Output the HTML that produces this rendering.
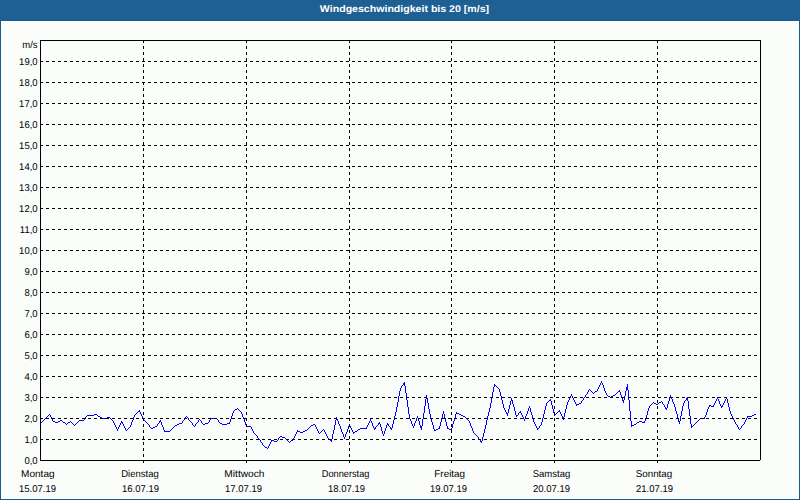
<!DOCTYPE html>
<html><head><meta charset="utf-8"><style>
html,body{margin:0;padding:0;width:800px;height:500px;overflow:hidden;background:#fbfdfb;}
svg{display:block;}
text{font-family:"Liberation Sans",sans-serif;text-rendering:geometricPrecision;}
</style></head><body>
<svg width="800" height="500" viewBox="0 0 800 500">
<rect x="0" y="0" width="800" height="500" fill="#175a94"/>
<rect x="1" y="21" width="798" height="478" fill="#ffffff"/>
<rect x="2" y="22" width="796" height="476" fill="#fbfdfb"/>
<rect x="0" y="0" width="800" height="20" fill="#1e6093"/>
<text x="404.5" y="12" fill="#ffffff" font-size="9.8" font-weight="bold" text-anchor="middle" transform="matrix(1.08 0 0 1 -32.360 0)">Windgeschwindigkeit bis 20 [m/s]</text>
<path d="M601 381h1v1h-1zM404 382h1v1h-1zM601 382h1v1h-1zM403 383h2v1h-2zM600 383h1v1h-1zM602 383h1v1h-1zM403 384h2v1h-2zM494 384h1v1h-1zM600 384h1v1h-1zM602 384h1v1h-1zM627 384h1v1h-1zM402 385h1v1h-1zM404 385h1v1h-1zM494 385h2v1h-2zM599 385h1v1h-1zM603 385h1v1h-1zM627 385h1v1h-1zM401 386h1v1h-1zM405 386h1v1h-1zM494 386h1v1h-1zM496 386h1v1h-1zM599 386h1v1h-1zM603 386h1v1h-1zM627 386h1v1h-1zM401 387h1v1h-1zM405 387h1v1h-1zM493 387h1v1h-1zM497 387h1v1h-1zM598 387h1v1h-1zM603 387h1v1h-1zM626 387h2v1h-2zM400 388h1v1h-1zM405 388h1v1h-1zM493 388h1v1h-1zM498 388h1v1h-1zM598 388h1v1h-1zM604 388h1v1h-1zM626 388h2v1h-2zM400 389h1v1h-1zM405 389h1v1h-1zM493 389h1v1h-1zM499 389h1v1h-1zM589 389h1v1h-1zM597 389h1v1h-1zM604 389h1v1h-1zM626 389h2v1h-2zM400 390h1v1h-1zM405 390h1v1h-1zM493 390h1v1h-1zM499 390h1v1h-1zM588 390h1v1h-1zM590 390h1v1h-1zM597 390h1v1h-1zM604 390h1v1h-1zM619 390h1v1h-1zM626 390h1v1h-1zM628 390h1v1h-1zM399 391h1v1h-1zM405 391h1v1h-1zM493 391h1v1h-1zM499 391h1v1h-1zM588 391h1v1h-1zM591 391h1v1h-1zM595 391h2v1h-2zM605 391h1v1h-1zM618 391h2v1h-2zM625 391h1v1h-1zM628 391h1v1h-1zM399 392h1v1h-1zM405 392h1v1h-1zM492 392h1v1h-1zM500 392h1v1h-1zM587 392h1v1h-1zM592 392h1v1h-1zM594 392h1v1h-1zM605 392h1v1h-1zM617 392h1v1h-1zM620 392h1v1h-1zM625 392h1v1h-1zM628 392h1v1h-1zM399 393h1v1h-1zM406 393h1v1h-1zM492 393h1v1h-1zM500 393h1v1h-1zM587 393h1v1h-1zM593 393h1v1h-1zM606 393h1v1h-1zM616 393h1v1h-1zM620 393h1v1h-1zM625 393h1v1h-1zM628 393h1v1h-1zM399 394h1v1h-1zM406 394h1v1h-1zM492 394h1v1h-1zM500 394h1v1h-1zM571 394h1v1h-1zM586 394h1v1h-1zM606 394h1v1h-1zM615 394h1v1h-1zM620 394h1v1h-1zM625 394h1v1h-1zM628 394h1v1h-1zM399 395h1v1h-1zM406 395h1v1h-1zM426 395h1v1h-1zM492 395h1v1h-1zM500 395h1v1h-1zM571 395h1v1h-1zM585 395h1v1h-1zM607 395h1v1h-1zM613 395h2v1h-2zM621 395h1v1h-1zM625 395h1v1h-1zM628 395h1v1h-1zM670 395h1v1h-1zM398 396h1v1h-1zM406 396h1v1h-1zM426 396h1v1h-1zM492 396h1v1h-1zM501 396h1v1h-1zM570 396h1v1h-1zM572 396h1v1h-1zM585 396h1v1h-1zM608 396h2v1h-2zM611 396h2v1h-2zM621 396h1v1h-1zM624 396h1v1h-1zM628 396h1v1h-1zM670 396h1v1h-1zM398 397h1v1h-1zM406 397h1v1h-1zM426 397h1v1h-1zM492 397h1v1h-1zM501 397h1v1h-1zM570 397h1v1h-1zM572 397h1v1h-1zM584 397h1v1h-1zM610 397h1v1h-1zM621 397h1v1h-1zM624 397h1v1h-1zM628 397h1v1h-1zM669 397h1v1h-1zM671 397h1v1h-1zM687 397h1v1h-1zM717 397h1v1h-1zM726 397h1v1h-1zM398 398h1v1h-1zM406 398h1v1h-1zM426 398h2v1h-2zM491 398h1v1h-1zM501 398h1v1h-1zM511 398h1v1h-1zM569 398h1v1h-1zM573 398h1v1h-1zM583 398h1v1h-1zM622 398h1v1h-1zM624 398h1v1h-1zM628 398h1v1h-1zM669 398h1v1h-1zM671 398h1v1h-1zM686 398h2v1h-2zM717 398h1v1h-1zM726 398h1v1h-1zM398 399h1v1h-1zM406 399h1v1h-1zM425 399h1v1h-1zM427 399h1v1h-1zM491 399h1v1h-1zM501 399h1v1h-1zM511 399h1v1h-1zM550 399h1v1h-1zM569 399h1v1h-1zM573 399h1v1h-1zM583 399h1v1h-1zM622 399h1v1h-1zM624 399h1v1h-1zM628 399h1v1h-1zM669 399h1v1h-1zM672 399h1v1h-1zM686 399h2v1h-2zM716 399h1v1h-1zM718 399h1v1h-1zM725 399h1v1h-1zM727 399h1v1h-1zM398 400h1v1h-1zM407 400h1v1h-1zM425 400h1v1h-1zM427 400h1v1h-1zM491 400h1v1h-1zM502 400h1v1h-1zM511 400h2v1h-2zM549 400h2v1h-2zM568 400h1v1h-1zM574 400h1v1h-1zM582 400h1v1h-1zM622 400h2v1h-2zM629 400h1v1h-1zM669 400h1v1h-1zM672 400h1v1h-1zM685 400h1v1h-1zM687 400h1v1h-1zM716 400h1v1h-1zM718 400h1v1h-1zM725 400h1v1h-1zM727 400h1v1h-1zM398 401h1v1h-1zM407 401h1v1h-1zM425 401h1v1h-1zM427 401h1v1h-1zM491 401h1v1h-1zM502 401h1v1h-1zM510 401h1v1h-1zM512 401h1v1h-1zM548 401h1v1h-1zM551 401h1v1h-1zM568 401h1v1h-1zM574 401h1v1h-1zM581 401h1v1h-1zM623 401h1v1h-1zM629 401h1v1h-1zM661 401h1v1h-1zM668 401h1v1h-1zM672 401h1v1h-1zM684 401h1v1h-1zM688 401h1v1h-1zM715 401h1v1h-1zM719 401h1v1h-1zM724 401h1v1h-1zM727 401h1v1h-1zM397 402h1v1h-1zM407 402h1v1h-1zM425 402h1v1h-1zM427 402h1v1h-1zM491 402h1v1h-1zM502 402h1v1h-1zM510 402h1v1h-1zM512 402h1v1h-1zM547 402h1v1h-1zM551 402h1v1h-1zM567 402h1v1h-1zM575 402h1v1h-1zM581 402h1v1h-1zM623 402h1v1h-1zM629 402h1v1h-1zM653 402h1v1h-1zM659 402h2v1h-2zM662 402h1v1h-1zM668 402h1v1h-1zM673 402h1v1h-1zM684 402h1v1h-1zM688 402h1v1h-1zM715 402h1v1h-1zM719 402h1v1h-1zM724 402h1v1h-1zM727 402h1v1h-1zM397 403h1v1h-1zM407 403h1v1h-1zM425 403h1v1h-1zM428 403h1v1h-1zM490 403h1v1h-1zM502 403h1v1h-1zM510 403h1v1h-1zM512 403h1v1h-1zM546 403h1v1h-1zM551 403h1v1h-1zM567 403h1v1h-1zM575 403h1v1h-1zM579 403h2v1h-2zM629 403h1v1h-1zM652 403h1v1h-1zM654 403h2v1h-2zM658 403h1v1h-1zM662 403h1v1h-1zM668 403h1v1h-1zM673 403h1v1h-1zM683 403h1v1h-1zM688 403h1v1h-1zM714 403h1v1h-1zM719 403h1v1h-1zM723 403h1v1h-1zM728 403h1v1h-1zM397 404h1v1h-1zM407 404h1v1h-1zM425 404h1v1h-1zM428 404h1v1h-1zM490 404h1v1h-1zM503 404h1v1h-1zM510 404h1v1h-1zM513 404h1v1h-1zM546 404h1v1h-1zM551 404h1v1h-1zM567 404h1v1h-1zM576 404h3v1h-3zM629 404h1v1h-1zM651 404h1v1h-1zM656 404h2v1h-2zM663 404h1v1h-1zM667 404h1v1h-1zM674 404h1v1h-1zM683 404h1v1h-1zM688 404h1v1h-1zM714 404h1v1h-1zM720 404h1v1h-1zM723 404h1v1h-1zM728 404h1v1h-1zM397 405h1v1h-1zM407 405h1v1h-1zM425 405h1v1h-1zM428 405h1v1h-1zM490 405h1v1h-1zM503 405h1v1h-1zM509 405h1v1h-1zM513 405h1v1h-1zM546 405h1v1h-1zM552 405h1v1h-1zM566 405h1v1h-1zM576 405h1v1h-1zM629 405h1v1h-1zM650 405h1v1h-1zM664 405h1v1h-1zM667 405h1v1h-1zM674 405h1v1h-1zM683 405h1v1h-1zM688 405h1v1h-1zM709 405h2v1h-2zM713 405h1v1h-1zM720 405h1v1h-1zM722 405h1v1h-1zM728 405h1v1h-1zM397 406h1v1h-1zM407 406h1v1h-1zM424 406h1v1h-1zM428 406h1v1h-1zM490 406h1v1h-1zM503 406h1v1h-1zM509 406h1v1h-1zM513 406h1v1h-1zM529 406h1v1h-1zM545 406h1v1h-1zM552 406h1v1h-1zM566 406h1v1h-1zM629 406h1v1h-1zM649 406h1v1h-1zM664 406h1v1h-1zM667 406h1v1h-1zM674 406h1v1h-1zM682 406h1v1h-1zM688 406h1v1h-1zM709 406h1v1h-1zM711 406h3v1h-3zM721 406h2v1h-2zM728 406h1v1h-1zM396 407h1v1h-1zM408 407h1v1h-1zM424 407h1v1h-1zM428 407h1v1h-1zM490 407h1v1h-1zM503 407h1v1h-1zM509 407h1v1h-1zM514 407h1v1h-1zM529 407h1v1h-1zM545 407h1v1h-1zM552 407h1v1h-1zM566 407h1v1h-1zM629 407h1v1h-1zM649 407h1v1h-1zM665 407h1v1h-1zM667 407h1v1h-1zM675 407h1v1h-1zM682 407h1v1h-1zM688 407h1v1h-1zM708 407h1v1h-1zM721 407h1v1h-1zM729 407h1v1h-1zM237 408h1v1h-1zM396 408h1v1h-1zM408 408h1v1h-1zM424 408h1v1h-1zM428 408h1v1h-1zM489 408h1v1h-1zM504 408h1v1h-1zM509 408h1v1h-1zM514 408h1v1h-1zM528 408h1v1h-1zM530 408h1v1h-1zM545 408h1v1h-1zM552 408h1v1h-1zM566 408h1v1h-1zM629 408h1v1h-1zM648 408h1v1h-1zM665 408h2v1h-2zM675 408h1v1h-1zM682 408h1v1h-1zM688 408h1v1h-1zM708 408h1v1h-1zM729 408h1v1h-1zM235 409h2v1h-2zM238 409h1v1h-1zM396 409h1v1h-1zM408 409h1v1h-1zM424 409h1v1h-1zM429 409h1v1h-1zM489 409h1v1h-1zM504 409h1v1h-1zM508 409h1v1h-1zM514 409h1v1h-1zM528 409h1v1h-1zM530 409h1v1h-1zM545 409h1v1h-1zM553 409h1v1h-1zM565 409h1v1h-1zM629 409h1v1h-1zM648 409h1v1h-1zM666 409h1v1h-1zM675 409h1v1h-1zM682 409h1v1h-1zM689 409h1v1h-1zM707 409h1v1h-1zM729 409h1v1h-1zM139 410h1v1h-1zM234 410h1v1h-1zM239 410h1v1h-1zM396 410h1v1h-1zM408 410h1v1h-1zM424 410h1v1h-1zM429 410h1v1h-1zM489 410h1v1h-1zM505 410h1v1h-1zM508 410h1v1h-1zM514 410h1v1h-1zM528 410h1v1h-1zM530 410h1v1h-1zM544 410h1v1h-1zM553 410h1v1h-1zM559 410h1v1h-1zM565 410h1v1h-1zM629 410h1v1h-1zM648 410h1v1h-1zM675 410h1v1h-1zM682 410h1v1h-1zM689 410h1v1h-1zM707 410h1v1h-1zM729 410h1v1h-1zM138 411h2v1h-2zM233 411h1v1h-1zM240 411h1v1h-1zM396 411h1v1h-1zM408 411h1v1h-1zM424 411h1v1h-1zM429 411h1v1h-1zM443 411h1v1h-1zM489 411h1v1h-1zM505 411h1v1h-1zM508 411h1v1h-1zM515 411h1v1h-1zM520 411h1v1h-1zM527 411h1v1h-1zM530 411h1v1h-1zM544 411h1v1h-1zM553 411h1v1h-1zM558 411h2v1h-2zM565 411h1v1h-1zM630 411h1v1h-1zM647 411h1v1h-1zM676 411h1v1h-1zM681 411h1v1h-1zM689 411h1v1h-1zM707 411h1v1h-1zM730 411h1v1h-1zM137 412h1v1h-1zM140 412h1v1h-1zM233 412h1v1h-1zM241 412h1v1h-1zM395 412h1v1h-1zM408 412h1v1h-1zM424 412h1v1h-1zM429 412h1v1h-1zM443 412h1v1h-1zM456 412h1v1h-1zM488 412h1v1h-1zM506 412h1v1h-1zM508 412h1v1h-1zM515 412h1v1h-1zM519 412h2v1h-2zM527 412h1v1h-1zM531 412h1v1h-1zM544 412h1v1h-1zM553 412h1v1h-1zM557 412h1v1h-1zM560 412h1v1h-1zM565 412h1v1h-1zM630 412h1v1h-1zM647 412h1v1h-1zM676 412h1v1h-1zM681 412h1v1h-1zM689 412h1v1h-1zM706 412h1v1h-1zM730 412h1v1h-1zM136 413h1v1h-1zM140 413h1v1h-1zM232 413h1v1h-1zM241 413h1v1h-1zM395 413h1v1h-1zM408 413h1v1h-1zM423 413h1v1h-1zM429 413h1v1h-1zM443 413h1v1h-1zM456 413h3v1h-3zM488 413h1v1h-1zM506 413h2v1h-2zM515 413h1v1h-1zM518 413h1v1h-1zM521 413h1v1h-1zM527 413h1v1h-1zM531 413h1v1h-1zM544 413h1v1h-1zM554 413h1v1h-1zM556 413h1v1h-1zM560 413h1v1h-1zM564 413h1v1h-1zM630 413h1v1h-1zM647 413h1v1h-1zM676 413h1v1h-1zM681 413h1v1h-1zM689 413h1v1h-1zM706 413h1v1h-1zM730 413h1v1h-1zM49 414h1v1h-1zM94 414h3v1h-3zM135 414h1v1h-1zM141 414h1v1h-1zM232 414h1v1h-1zM242 414h1v1h-1zM395 414h1v1h-1zM409 414h1v1h-1zM423 414h1v1h-1zM430 414h1v1h-1zM442 414h1v1h-1zM444 414h1v1h-1zM455 414h1v1h-1zM459 414h2v1h-2zM488 414h1v1h-1zM507 414h1v1h-1zM515 414h1v1h-1zM518 414h1v1h-1zM521 414h1v1h-1zM526 414h1v1h-1zM531 414h1v1h-1zM543 414h1v1h-1zM554 414h2v1h-2zM561 414h1v1h-1zM564 414h1v1h-1zM630 414h1v1h-1zM647 414h1v1h-1zM677 414h1v1h-1zM681 414h1v1h-1zM689 414h1v1h-1zM706 414h1v1h-1zM731 414h1v1h-1zM754 414h2v1h-2zM48 415h1v1h-1zM50 415h1v1h-1zM87 415h7v1h-7zM97 415h1v1h-1zM134 415h1v1h-1zM141 415h1v1h-1zM232 415h1v1h-1zM242 415h1v1h-1zM395 415h1v1h-1zM409 415h1v1h-1zM423 415h1v1h-1zM430 415h1v1h-1zM442 415h1v1h-1zM444 415h1v1h-1zM455 415h1v1h-1zM461 415h2v1h-2zM488 415h1v1h-1zM507 415h1v1h-1zM516 415h2v1h-2zM522 415h1v1h-1zM526 415h1v1h-1zM532 415h1v1h-1zM543 415h1v1h-1zM554 415h1v1h-1zM561 415h1v1h-1zM564 415h1v1h-1zM630 415h1v1h-1zM646 415h1v1h-1zM677 415h1v1h-1zM681 415h1v1h-1zM689 415h1v1h-1zM705 415h1v1h-1zM731 415h1v1h-1zM752 415h2v1h-2zM47 416h1v1h-1zM50 416h1v1h-1zM86 416h1v1h-1zM98 416h2v1h-2zM134 416h1v1h-1zM142 416h1v1h-1zM186 416h1v1h-1zM231 416h1v1h-1zM242 416h1v1h-1zM394 416h1v1h-1zM409 416h1v1h-1zM417 416h1v1h-1zM423 416h1v1h-1zM430 416h1v1h-1zM442 416h1v1h-1zM444 416h1v1h-1zM455 416h1v1h-1zM463 416h2v1h-2zM487 416h1v1h-1zM516 416h1v1h-1zM522 416h1v1h-1zM525 416h1v1h-1zM532 416h1v1h-1zM543 416h1v1h-1zM562 416h1v1h-1zM564 416h1v1h-1zM630 416h1v1h-1zM646 416h1v1h-1zM677 416h1v1h-1zM680 416h1v1h-1zM690 416h1v1h-1zM705 416h1v1h-1zM732 416h1v1h-1zM747 416h5v1h-5zM46 417h1v1h-1zM51 417h1v1h-1zM85 417h1v1h-1zM100 417h2v1h-2zM107 417h3v1h-3zM133 417h1v1h-1zM142 417h1v1h-1zM185 417h1v1h-1zM187 417h1v1h-1zM231 417h1v1h-1zM243 417h1v1h-1zM336 417h1v1h-1zM394 417h1v1h-1zM409 417h1v1h-1zM417 417h1v1h-1zM423 417h1v1h-1zM430 417h1v1h-1zM442 417h1v1h-1zM444 417h1v1h-1zM455 417h1v1h-1zM465 417h1v1h-1zM487 417h1v1h-1zM523 417h1v1h-1zM525 417h1v1h-1zM532 417h1v1h-1zM543 417h1v1h-1zM562 417h2v1h-2zM630 417h1v1h-1zM646 417h1v1h-1zM677 417h1v1h-1zM680 417h1v1h-1zM690 417h1v1h-1zM704 417h1v1h-1zM732 417h1v1h-1zM747 417h1v1h-1zM45 418h1v1h-1zM51 418h1v1h-1zM85 418h1v1h-1zM102 418h5v1h-5zM110 418h1v1h-1zM133 418h1v1h-1zM143 418h1v1h-1zM185 418h1v1h-1zM188 418h1v1h-1zM211 418h6v1h-6zM231 418h1v1h-1zM243 418h1v1h-1zM336 418h1v1h-1zM394 418h1v1h-1zM409 418h1v1h-1zM416 418h1v1h-1zM418 418h1v1h-1zM423 418h1v1h-1zM431 418h1v1h-1zM441 418h1v1h-1zM445 418h1v1h-1zM454 418h1v1h-1zM466 418h1v1h-1zM487 418h1v1h-1zM523 418h1v1h-1zM525 418h1v1h-1zM532 418h1v1h-1zM542 418h1v1h-1zM563 418h1v1h-1zM630 418h1v1h-1zM645 418h1v1h-1zM678 418h1v1h-1zM680 418h1v1h-1zM690 418h1v1h-1zM700 418h5v1h-5zM733 418h1v1h-1zM746 418h1v1h-1zM44 419h1v1h-1zM52 419h1v1h-1zM84 419h1v1h-1zM111 419h1v1h-1zM133 419h1v1h-1zM143 419h1v1h-1zM184 419h1v1h-1zM188 419h1v1h-1zM199 419h1v1h-1zM210 419h1v1h-1zM217 419h1v1h-1zM230 419h1v1h-1zM244 419h1v1h-1zM336 419h2v1h-2zM370 419h1v1h-1zM394 419h1v1h-1zM410 419h1v1h-1zM416 419h1v1h-1zM418 419h1v1h-1zM422 419h1v1h-1zM431 419h1v1h-1zM441 419h1v1h-1zM445 419h1v1h-1zM454 419h1v1h-1zM467 419h1v1h-1zM487 419h1v1h-1zM524 419h1v1h-1zM533 419h1v1h-1zM542 419h1v1h-1zM563 419h1v1h-1zM630 419h1v1h-1zM645 419h1v1h-1zM678 419h1v1h-1zM680 419h1v1h-1zM690 419h1v1h-1zM699 419h1v1h-1zM733 419h1v1h-1zM746 419h1v1h-1zM43 420h1v1h-1zM52 420h1v1h-1zM60 420h2v1h-2zM79 420h5v1h-5zM112 420h1v1h-1zM132 420h1v1h-1zM144 420h1v1h-1zM160 420h1v1h-1zM183 420h1v1h-1zM189 420h1v1h-1zM198 420h1v1h-1zM200 420h1v1h-1zM209 420h1v1h-1zM218 420h1v1h-1zM230 420h1v1h-1zM244 420h1v1h-1zM335 420h1v1h-1zM337 420h1v1h-1zM370 420h1v1h-1zM393 420h1v1h-1zM410 420h1v1h-1zM416 420h1v1h-1zM418 420h1v1h-1zM422 420h1v1h-1zM431 420h1v1h-1zM441 420h1v1h-1zM445 420h1v1h-1zM454 420h1v1h-1zM468 420h1v1h-1zM486 420h1v1h-1zM524 420h1v1h-1zM533 420h1v1h-1zM542 420h1v1h-1zM630 420h1v1h-1zM645 420h1v1h-1zM678 420h1v1h-1zM680 420h1v1h-1zM690 420h1v1h-1zM698 420h1v1h-1zM734 420h1v1h-1zM745 420h1v1h-1zM42 421h1v1h-1zM53 421h2v1h-2zM58 421h2v1h-2zM62 421h1v1h-1zM70 421h1v1h-1zM78 421h1v1h-1zM113 421h1v1h-1zM121 421h1v1h-1zM132 421h1v1h-1zM145 421h1v1h-1zM159 421h2v1h-2zM182 421h1v1h-1zM190 421h1v1h-1zM198 421h1v1h-1zM201 421h1v1h-1zM209 421h1v1h-1zM218 421h1v1h-1zM230 421h1v1h-1zM244 421h1v1h-1zM335 421h1v1h-1zM338 421h1v1h-1zM369 421h1v1h-1zM371 421h1v1h-1zM393 421h1v1h-1zM411 421h1v1h-1zM415 421h1v1h-1zM419 421h1v1h-1zM422 421h1v1h-1zM431 421h1v1h-1zM441 421h1v1h-1zM445 421h1v1h-1zM453 421h1v1h-1zM469 421h1v1h-1zM486 421h1v1h-1zM533 421h1v1h-1zM542 421h1v1h-1zM631 421h1v1h-1zM639 421h3v1h-3zM644 421h1v1h-1zM678 421h2v1h-2zM690 421h1v1h-1zM697 421h1v1h-1zM734 421h1v1h-1zM745 421h1v1h-1zM41 422h1v1h-1zM55 422h3v1h-3zM63 422h2v1h-2zM68 422h2v1h-2zM71 422h1v1h-1zM77 422h1v1h-1zM113 422h1v1h-1zM121 422h2v1h-2zM131 422h1v1h-1zM146 422h1v1h-1zM159 422h1v1h-1zM161 422h1v1h-1zM182 422h1v1h-1zM191 422h1v1h-1zM197 422h1v1h-1zM201 422h1v1h-1zM208 422h1v1h-1zM219 422h1v1h-1zM229 422h1v1h-1zM245 422h1v1h-1zM335 422h1v1h-1zM338 422h1v1h-1zM369 422h1v1h-1zM371 422h1v1h-1zM379 422h1v1h-1zM393 422h1v1h-1zM411 422h1v1h-1zM415 422h1v1h-1zM419 422h1v1h-1zM422 422h1v1h-1zM432 422h1v1h-1zM440 422h1v1h-1zM446 422h1v1h-1zM453 422h1v1h-1zM469 422h1v1h-1zM486 422h1v1h-1zM534 422h1v1h-1zM541 422h1v1h-1zM631 422h1v1h-1zM637 422h2v1h-2zM642 422h3v1h-3zM679 422h1v1h-1zM690 422h1v1h-1zM696 422h1v1h-1zM735 422h1v1h-1zM744 422h1v1h-1zM40 423h1v1h-1zM65 423h1v1h-1zM67 423h1v1h-1zM72 423h1v1h-1zM76 423h1v1h-1zM114 423h1v1h-1zM120 423h1v1h-1zM122 423h1v1h-1zM131 423h1v1h-1zM147 423h1v1h-1zM158 423h1v1h-1zM161 423h1v1h-1zM179 423h3v1h-3zM192 423h1v1h-1zM196 423h1v1h-1zM202 423h1v1h-1zM205 423h3v1h-3zM220 423h2v1h-2zM227 423h3v1h-3zM245 423h1v1h-1zM335 423h1v1h-1zM338 423h1v1h-1zM368 423h1v1h-1zM372 423h1v1h-1zM378 423h2v1h-2zM387 423h1v1h-1zM393 423h1v1h-1zM411 423h1v1h-1zM414 423h1v1h-1zM419 423h1v1h-1zM422 423h1v1h-1zM432 423h1v1h-1zM440 423h1v1h-1zM446 423h1v1h-1zM453 423h1v1h-1zM470 423h1v1h-1zM486 423h1v1h-1zM534 423h1v1h-1zM541 423h1v1h-1zM631 423h1v1h-1zM636 423h1v1h-1zM679 423h1v1h-1zM690 423h1v1h-1zM695 423h1v1h-1zM735 423h1v1h-1zM744 423h1v1h-1zM66 424h1v1h-1zM73 424h1v1h-1zM75 424h1v1h-1zM114 424h1v1h-1zM120 424h1v1h-1zM123 424h1v1h-1zM131 424h1v1h-1zM148 424h1v1h-1zM157 424h1v1h-1zM161 424h1v1h-1zM177 424h2v1h-2zM192 424h1v1h-1zM195 424h1v1h-1zM203 424h2v1h-2zM222 424h5v1h-5zM245 424h1v1h-1zM313 424h2v1h-2zM335 424h1v1h-1zM339 424h1v1h-1zM349 424h1v1h-1zM368 424h1v1h-1zM372 424h1v1h-1zM378 424h1v1h-1zM380 424h1v1h-1zM387 424h2v1h-2zM392 424h1v1h-1zM412 424h1v1h-1zM414 424h1v1h-1zM419 424h1v1h-1zM422 424h1v1h-1zM432 424h1v1h-1zM440 424h1v1h-1zM446 424h1v1h-1zM452 424h1v1h-1zM470 424h1v1h-1zM486 424h1v1h-1zM535 424h1v1h-1zM541 424h1v1h-1zM631 424h1v1h-1zM634 424h2v1h-2zM691 424h1v1h-1zM694 424h1v1h-1zM736 424h1v1h-1zM743 424h1v1h-1zM74 425h1v1h-1zM115 425h1v1h-1zM119 425h1v1h-1zM123 425h1v1h-1zM130 425h1v1h-1zM149 425h1v1h-1zM157 425h1v1h-1zM162 425h1v1h-1zM175 425h2v1h-2zM193 425h1v1h-1zM195 425h1v1h-1zM246 425h1v1h-1zM311 425h2v1h-2zM315 425h1v1h-1zM334 425h1v1h-1zM339 425h1v1h-1zM349 425h1v1h-1zM367 425h1v1h-1zM372 425h1v1h-1zM377 425h1v1h-1zM380 425h1v1h-1zM386 425h1v1h-1zM388 425h1v1h-1zM392 425h1v1h-1zM412 425h1v1h-1zM414 425h1v1h-1zM420 425h1v1h-1zM422 425h1v1h-1zM433 425h1v1h-1zM440 425h1v1h-1zM446 425h1v1h-1zM452 425h1v1h-1zM470 425h1v1h-1zM485 425h1v1h-1zM535 425h1v1h-1zM540 425h1v1h-1zM631 425h3v1h-3zM691 425h1v1h-1zM693 425h1v1h-1zM737 425h1v1h-1zM742 425h1v1h-1zM115 426h1v1h-1zM119 426h1v1h-1zM124 426h1v1h-1zM130 426h1v1h-1zM149 426h1v1h-1zM155 426h2v1h-2zM162 426h1v1h-1zM174 426h1v1h-1zM194 426h1v1h-1zM246 426h5v1h-5zM310 426h1v1h-1zM315 426h1v1h-1zM334 426h1v1h-1zM340 426h1v1h-1zM348 426h1v1h-1zM350 426h1v1h-1zM367 426h1v1h-1zM373 426h1v1h-1zM376 426h1v1h-1zM380 426h1v1h-1zM386 426h1v1h-1zM389 426h1v1h-1zM392 426h1v1h-1zM413 426h1v1h-1zM420 426h2v1h-2zM433 426h1v1h-1zM439 426h1v1h-1zM447 426h1v1h-1zM452 426h1v1h-1zM471 426h1v1h-1zM485 426h1v1h-1zM536 426h1v1h-1zM539 426h1v1h-1zM631 426h1v1h-1zM691 426h2v1h-2zM737 426h1v1h-1zM741 426h1v1h-1zM116 427h1v1h-1zM118 427h1v1h-1zM124 427h1v1h-1zM129 427h1v1h-1zM150 427h1v1h-1zM153 427h2v1h-2zM163 427h1v1h-1zM173 427h1v1h-1zM251 427h1v1h-1zM309 427h1v1h-1zM316 427h1v1h-1zM334 427h1v1h-1zM340 427h1v1h-1zM348 427h1v1h-1zM350 427h1v1h-1zM366 427h1v1h-1zM373 427h1v1h-1zM375 427h1v1h-1zM381 427h1v1h-1zM386 427h1v1h-1zM390 427h1v1h-1zM392 427h1v1h-1zM413 427h1v1h-1zM420 427h2v1h-2zM433 427h1v1h-1zM439 427h1v1h-1zM447 427h1v1h-1zM452 427h1v1h-1zM471 427h1v1h-1zM485 427h1v1h-1zM536 427h1v1h-1zM539 427h1v1h-1zM691 427h1v1h-1zM738 427h1v1h-1zM741 427h1v1h-1zM116 428h1v1h-1zM118 428h1v1h-1zM125 428h1v1h-1zM128 428h1v1h-1zM151 428h2v1h-2zM163 428h1v1h-1zM172 428h1v1h-1zM251 428h1v1h-1zM308 428h1v1h-1zM316 428h1v1h-1zM334 428h1v1h-1zM340 428h1v1h-1zM348 428h1v1h-1zM351 428h1v1h-1zM360 428h7v1h-7zM374 428h2v1h-2zM381 428h1v1h-1zM385 428h1v1h-1zM390 428h2v1h-2zM421 428h1v1h-1zM433 428h1v1h-1zM438 428h2v1h-2zM447 428h2v1h-2zM451 428h1v1h-1zM472 428h1v1h-1zM485 428h1v1h-1zM537 428h2v1h-2zM738 428h1v1h-1zM740 428h1v1h-1zM117 429h1v1h-1zM125 429h1v1h-1zM127 429h1v1h-1zM163 429h1v1h-1zM171 429h1v1h-1zM252 429h1v1h-1zM307 429h1v1h-1zM317 429h1v1h-1zM323 429h1v1h-1zM334 429h1v1h-1zM341 429h1v1h-1zM347 429h1v1h-1zM351 429h1v1h-1zM358 429h2v1h-2zM374 429h1v1h-1zM381 429h1v1h-1zM385 429h1v1h-1zM391 429h1v1h-1zM421 429h1v1h-1zM434 429h1v1h-1zM436 429h2v1h-2zM449 429h3v1h-3zM472 429h1v1h-1zM484 429h1v1h-1zM537 429h1v1h-1zM739 429h1v1h-1zM117 430h1v1h-1zM126 430h1v1h-1zM164 430h1v1h-1zM170 430h1v1h-1zM252 430h1v1h-1zM297 430h1v1h-1zM305 430h2v1h-2zM317 430h1v1h-1zM322 430h1v1h-1zM324 430h1v1h-1zM333 430h1v1h-1zM341 430h1v1h-1zM347 430h1v1h-1zM352 430h1v1h-1zM357 430h1v1h-1zM381 430h1v1h-1zM385 430h1v1h-1zM434 430h2v1h-2zM472 430h1v1h-1zM484 430h1v1h-1zM164 431h6v1h-6zM253 431h1v1h-1zM297 431h3v1h-3zM303 431h2v1h-2zM318 431h1v1h-1zM321 431h1v1h-1zM324 431h1v1h-1zM333 431h1v1h-1zM341 431h1v1h-1zM347 431h1v1h-1zM352 431h1v1h-1zM355 431h2v1h-2zM382 431h1v1h-1zM384 431h1v1h-1zM473 431h1v1h-1zM484 431h1v1h-1zM253 432h1v1h-1zM296 432h1v1h-1zM300 432h3v1h-3zM318 432h1v1h-1zM320 432h1v1h-1zM325 432h1v1h-1zM333 432h1v1h-1zM342 432h1v1h-1zM346 432h1v1h-1zM353 432h2v1h-2zM382 432h1v1h-1zM384 432h1v1h-1zM473 432h1v1h-1zM484 432h1v1h-1zM254 433h1v1h-1zM296 433h1v1h-1zM319 433h1v1h-1zM325 433h1v1h-1zM333 433h1v1h-1zM342 433h1v1h-1zM346 433h1v1h-1zM353 433h1v1h-1zM382 433h1v1h-1zM384 433h1v1h-1zM474 433h1v1h-1zM483 433h1v1h-1zM255 434h1v1h-1zM295 434h1v1h-1zM326 434h1v1h-1zM332 434h1v1h-1zM343 434h1v1h-1zM345 434h1v1h-1zM383 434h1v1h-1zM475 434h1v1h-1zM483 434h1v1h-1zM256 435h1v1h-1zM295 435h1v1h-1zM326 435h1v1h-1zM332 435h1v1h-1zM343 435h1v1h-1zM345 435h1v1h-1zM383 435h1v1h-1zM476 435h1v1h-1zM483 435h1v1h-1zM257 436h1v1h-1zM280 436h2v1h-2zM294 436h1v1h-1zM327 436h1v1h-1zM332 436h1v1h-1zM343 436h1v1h-1zM345 436h1v1h-1zM477 436h1v1h-1zM483 436h1v1h-1zM257 437h1v1h-1zM279 437h1v1h-1zM282 437h3v1h-3zM294 437h1v1h-1zM327 437h1v1h-1zM332 437h1v1h-1zM344 437h1v1h-1zM478 437h1v1h-1zM482 437h1v1h-1zM258 438h1v1h-1zM278 438h1v1h-1zM285 438h1v1h-1zM293 438h1v1h-1zM328 438h1v1h-1zM332 438h1v1h-1zM344 438h1v1h-1zM478 438h1v1h-1zM482 438h1v1h-1zM259 439h1v1h-1zM278 439h1v1h-1zM286 439h1v1h-1zM293 439h1v1h-1zM329 439h1v1h-1zM331 439h1v1h-1zM479 439h1v1h-1zM482 439h1v1h-1zM260 440h1v1h-1zM271 440h3v1h-3zM277 440h1v1h-1zM287 440h1v1h-1zM291 440h2v1h-2zM330 440h2v1h-2zM480 440h1v1h-1zM482 440h1v1h-1zM260 441h1v1h-1zM271 441h1v1h-1zM274 441h3v1h-3zM288 441h1v1h-1zM290 441h1v1h-1zM331 441h1v1h-1zM480 441h2v1h-2zM261 442h1v1h-1zM270 442h1v1h-1zM289 442h1v1h-1zM481 442h1v1h-1zM262 443h1v1h-1zM270 443h1v1h-1zM262 444h1v1h-1zM269 444h1v1h-1zM263 445h1v1h-1zM269 445h1v1h-1zM264 446h1v1h-1zM268 446h1v1h-1zM265 447h2v1h-2zM268 447h1v1h-1zM267 448h1v1h-1z" fill="#0000ff" shape-rendering="crispEdges"/>
<g stroke="#000" stroke-width="1" stroke-dasharray="3 3" fill="none" shape-rendering="crispEdges">
<path d="M40 439.5H760" />
<path d="M40 418.5H760" />
<path d="M40 397.5H760" />
<path d="M40 376.5H760" />
<path d="M40 355.5H760" />
<path d="M40 334.5H760" />
<path d="M40 313.5H760" />
<path d="M40 292.5H760" />
<path d="M40 271.5H760" />
<path d="M40 250.5H760" />
<path d="M40 229.5H760" />
<path d="M40 208.5H760" />
<path d="M40 187.5H760" />
<path d="M40 166.5H760" />
<path d="M40 145.5H760" />
<path d="M40 124.5H760" />
<path d="M40 103.5H760" />
<path d="M40 82.5H760" />
<path d="M40 61.5H760" />
<path d="M143.5 40V463" />
<path d="M246.5 40V463" />
<path d="M349.5 40V463" />
<path d="M451.5 40V463" />
<path d="M554.5 40V463" />
<path d="M657.5 40V463" />
</g>
<g stroke="#000" stroke-width="1" fill="none" shape-rendering="crispEdges">
<path d="M40.5 40V460M40 40.5H761M760.5 40V460M40 460.5H760"/>
</g>
<g fill="#000" font-size="9.5" text-anchor="end">
<text x="37.6" y="48" transform="matrix(1 0 0 1.04 0 -1.920)">m/s</text>
<text x="37.6" y="464" transform="matrix(1 0 0 1.04 0 -18.560)">0,0</text>
<text x="37.6" y="443" transform="matrix(1 0 0 1.04 0 -17.720)">1,0</text>
<text x="37.6" y="422" transform="matrix(1 0 0 1.04 0 -16.880)">2,0</text>
<text x="37.6" y="401" transform="matrix(1 0 0 1.04 0 -16.040)">3,0</text>
<text x="37.6" y="380" transform="matrix(1 0 0 1.04 0 -15.200)">4,0</text>
<text x="37.6" y="359" transform="matrix(1 0 0 1.04 0 -14.360)">5,0</text>
<text x="37.6" y="338" transform="matrix(1 0 0 1.04 0 -13.520)">6,0</text>
<text x="37.6" y="317" transform="matrix(1 0 0 1.04 0 -12.680)">7,0</text>
<text x="37.6" y="296" transform="matrix(1 0 0 1.04 0 -11.840)">8,0</text>
<text x="37.6" y="275" transform="matrix(1 0 0 1.04 0 -11.000)">9,0</text>
<text x="37.6" y="254" transform="matrix(1 0 0 1.04 0 -10.160)">10,0</text>
<text x="37.6" y="233" transform="matrix(1 0 0 1.04 0 -9.320)">11,0</text>
<text x="37.6" y="212" transform="matrix(1 0 0 1.04 0 -8.480)">12,0</text>
<text x="37.6" y="191" transform="matrix(1 0 0 1.04 0 -7.640)">13,0</text>
<text x="37.6" y="170" transform="matrix(1 0 0 1.04 0 -6.800)">14,0</text>
<text x="37.6" y="149" transform="matrix(1 0 0 1.04 0 -5.960)">15,0</text>
<text x="37.6" y="128" transform="matrix(1 0 0 1.04 0 -5.120)">16,0</text>
<text x="37.6" y="107" transform="matrix(1 0 0 1.04 0 -4.280)">17,0</text>
<text x="37.6" y="86" transform="matrix(1 0 0 1.04 0 -3.440)">18,0</text>
<text x="37.6" y="65" transform="matrix(1 0 0 1.04 0 -2.600)">19,0</text>
</g>
<g fill="#000" font-size="9.5" text-anchor="middle">
<text x="37.5" y="477" transform="matrix(1.06 0 0 1.04 -1.950 -19.080)">Montag</text><text x="37.5" y="492" transform="matrix(1 0 0 1.04 0 -19.680)">15.07.19</text>
<text x="140.5" y="477" transform="matrix(1.0 0 0 1.04 -0.500 -19.080)">Dienstag</text><text x="140.5" y="492" transform="matrix(1 0 0 1.04 0 -19.680)">16.07.19</text>
<text x="243.5" y="477" transform="matrix(1.07 0 0 1.04 -16.145 -19.080)">Mittwoch</text><text x="243.5" y="492" transform="matrix(1 0 0 1.04 0 -19.680)">17.07.19</text>
<text x="346.5" y="477" transform="matrix(0.97 0 0 1.04 9.495 -19.080)">Donnerstag</text><text x="346.5" y="492" transform="matrix(1 0 0 1.04 0 -19.680)">18.07.19</text>
<text x="448.5" y="477" transform="matrix(1.04 0 0 1.04 -16.740 -19.080)">Freitag</text><text x="448.5" y="492" transform="matrix(1 0 0 1.04 0 -19.680)">19.07.19</text>
<text x="551.5" y="477" transform="matrix(1.0 0 0 1.04 0.000 -19.080)">Samstag</text><text x="551.5" y="492" transform="matrix(1 0 0 1.04 0 -19.680)">20.07.19</text>
<text x="654.5" y="477" transform="matrix(1.03 0 0 1.04 -20.135 -19.080)">Sonntag</text><text x="654.5" y="492" transform="matrix(1 0 0 1.04 0 -19.680)">21.07.19</text>
</g>
</svg>
</body></html>
